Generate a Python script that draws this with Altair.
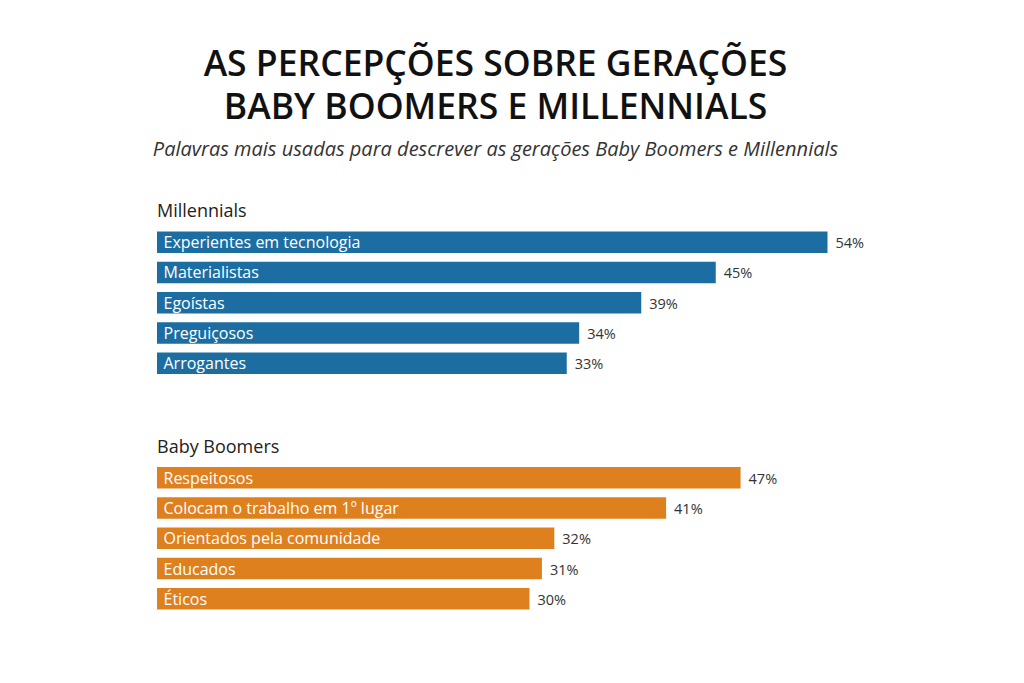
import altair as alt
import pandas as pd

title_lines = ["AS PERCEPÇÕES SOBRE GERAÇÕES", "BABY BOOMERS E MILLENNIALS"]
subtitle = "Palavras mais usadas para descrever as gerações Baby Boomers e Millennials"

mil_labels = ["Experientes em tecnologia", "Materialistas", "Egoístas", "Preguiçosos", "Arrogantes"]
mil_values = [54, 45, 39, 34, 33]

bb_labels = ["Respeitosos", "Colocam o trabalho em 1º lugar", "Orientados pela comunidade", "Educados", "Éticos"]
bb_values = [47, 41, 32, 31, 30]

FONT = "Open Sans"


def panel(labels, values, color, name):
    df = pd.DataFrame({"label": labels, "value": values,
                       "text": [f"{v}%" for v in values]})
    base = alt.Chart(df).encode(
        y=alt.Y("label:N", sort=labels, axis=None,
                scale=alt.Scale(paddingInner=0.29, paddingOuter=0.145))
    )
    bars = base.mark_bar(color=color).encode(
        x=alt.X("value:Q", axis=None, scale=alt.Scale(domain=[0, 60], nice=False))
    )
    inner = base.mark_text(align="left", baseline="middle", dx=6.5, dy=1,
                           color="white", font=FONT, fontSize=16).encode(
        x=alt.value(0), text="label:N"
    )
    vals = base.mark_text(align="left", baseline="middle", dx=8, dy=2,
                          color="#333333", font=FONT, fontSize=14.5).encode(
        x=alt.X("value:Q"), text="text:N"
    )
    return alt.layer(bars, inner, vals).properties(
        width=745,
        height=alt.Step(30.3),
        title=alt.TitleParams(name, anchor="start", font=FONT, fontSize=18,
                              fontWeight="normal", color="#222222",
                              baseline="alphabetic", offset=9, dy=17),
    )


chart = alt.vconcat(
    panel(mil_labels, mil_values, "#1c6ea2", "Millennials"),
    panel(bb_labels, bb_values, "#df801f", "Baby Boomers"),
    spacing=59.5,
).properties(
    title=alt.TitleParams(
        title_lines, subtitle=subtitle, anchor="middle", frame="group", dx=-34,
        font=FONT, fontSize=35.5, fontWeight=600, color="#111111", lineHeight=43,
        subtitleFont=FONT, subtitleFontSize=20, subtitleFontStyle="italic",
        subtitleColor="#333333", subtitlePadding=14, offset=43,
    ),
    padding={"left": 152, "top": 47, "right": 20, "bottom": 20},
    background="white",
).configure_view(strokeWidth=0, stroke=None)

chart.save("out.html", embed_options={"renderer": "svg", "actions": False})
